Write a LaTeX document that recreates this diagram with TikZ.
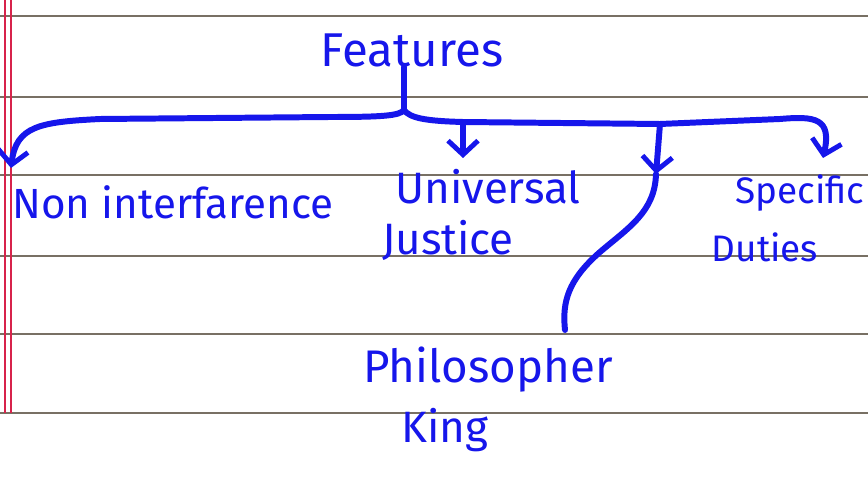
\documentclass[tikz,border=0pt]{standalone}
\usepackage{fontspec}
\setmainfont{Fira Sans}
\usetikzlibrary{arrows.meta}
\definecolor{penblue}{RGB}{22,22,235}
\definecolor{ruleline}{RGB}{120,112,100}
\definecolor{marginred}{RGB}{215,35,75}
\tikzset{
  note/.style={text=penblue,font=\fontsize{25}{27}\selectfont,inner sep=0pt},
  pen/.style={draw=penblue,line width=3.4pt,line cap=round,line join=round},
  pentip/.style={-{Straight Barb[length=2.8mm,width=6mm,line width=2.8pt]}}
}
\begin{document}
\begin{tikzpicture}[x=0.02cm,y=-0.02cm]
  \fill[white] (0,0) rectangle (868,489);
  \useasboundingbox (0,0) rectangle (868,489);

  % ruled paper
  \foreach \yy in {16,97,175,256,334,413}
    \draw[ruleline,line width=0.7pt] (0,\yy) -- (868,\yy);
  \draw[marginred,line width=0.7pt] (5,0) -- (5,413);
  \draw[marginred,line width=0.7pt] (11,0) -- (11,413);

  % words
  \node[note,font=\fontsize{27}{29}\selectfont] (feat) at (412,50) {Features};
  \node[note,font=\fontsize{24}{26}\selectfont] (nonint) at (173,202) {Non interfarence};
  \node[note] (univ) at (488,187) {Universal};
  \node[note] (just) at (448,240) {Justice};
  \node[note,font=\fontsize{21}{23}\selectfont] (spec) at (800,193) {Specific};
  \node[note,font=\fontsize{21}{23}\selectfont] (duty) at (765,247) {Duties};
  \node[note,font=\fontsize{26}{28}\selectfont] (philo) at (488,370) {Philosopher};
  \node[note] (king) at (445,430) {King};

  % brace
  \coordinate (hub) at (404,110);
  \coordinate (jU) at (463,122);
  \coordinate (jP) at (660,124);
  \coordinate (tL) at (11,168);
  \coordinate (tU) at (463,158);
  \coordinate (tP) at (656,174);
  \coordinate (tS) at (823,158);
  \coordinate (pTop) at (565,330);

  \draw[pen] (feat.south -| hub) -- (hub);
  \draw[pen,pentip] (hub) .. controls (400,116) and (380,117) .. (330,117)
    -- (100,119) .. controls (40,122) and (16,126) .. (tL);
  \draw[pen,pentip] (hub) .. controls (410,118) and (425,121) .. (jU)
    -- (jP) -- (780,119) .. controls (815,116) and (832,118) .. (tS);
  \draw[pen,pentip] (jU) -- (tU);
  \draw[pen,pentip] (jP) -- (tP);
  \draw[pen] (tP) .. controls (655,212) and (628,228) .. (600,252)
    .. controls (568,280) and (562,302) .. (pTop);
\end{tikzpicture}
\end{document}
